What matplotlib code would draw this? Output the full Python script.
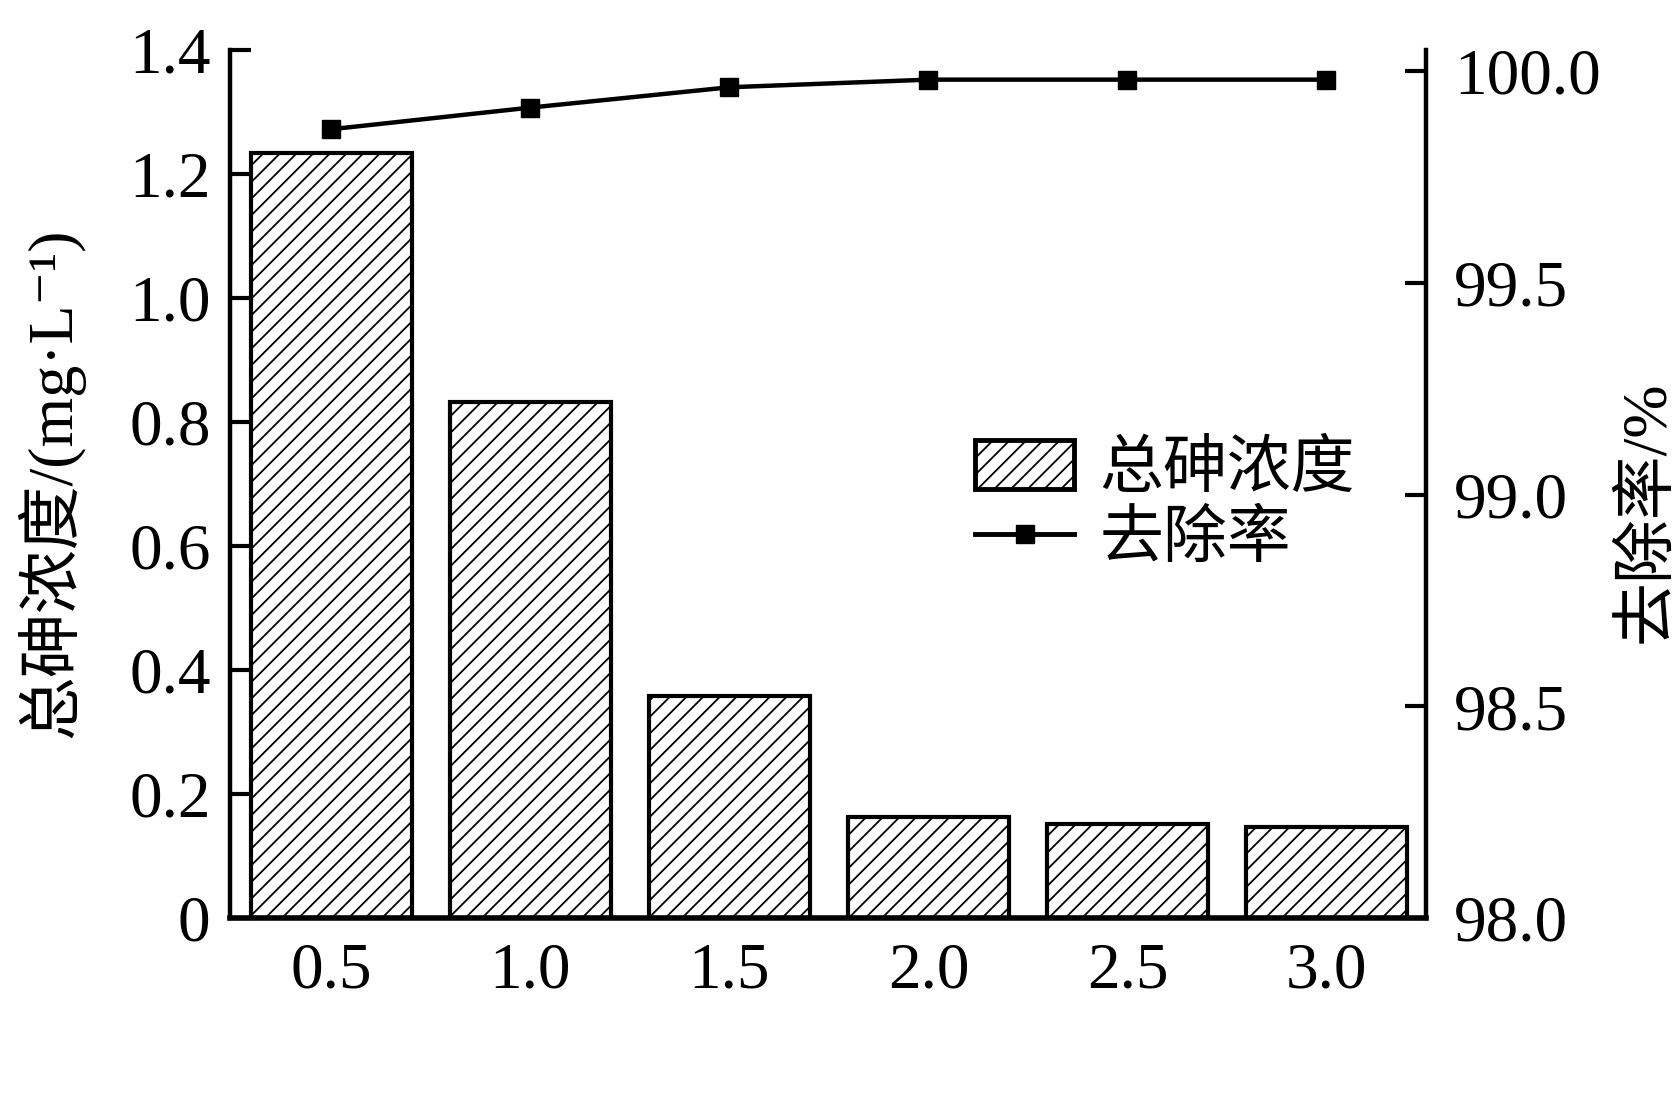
import matplotlib
matplotlib.use("Agg")
import matplotlib.pyplot as plt
from matplotlib.ticker import FixedLocator

plt.rcParams['font.family'] = ['Liberation Serif', 'Noto Sans CJK SC', 'DejaVu Sans']
plt.rcParams['hatch.linewidth'] = 1.3
plt.rcParams['axes.unicode_minus'] = False

# Data
categories = ["0.5", "1.0", "1.5", "2.0", "2.5", "3.0"]
arsenic_conc = [1.234, 0.832, 0.358, 0.163, 0.151, 0.147]      # 总砷浓度 mg/L
removal_rate = [99.863, 99.914, 99.962, 99.980, 99.980, 99.980]  # 去除率 %
left_ticks = [0, 0.2, 0.4, 0.6, 0.8, 1.0, 1.2, 1.4]
left_ticklabels = ["0", "0.2", "0.4", "0.6", "0.8", "1.0", "1.2", "1.4"]
right_ticks = [98.0, 98.5, 99.0, 99.5, 100.0]
right_ticklabels = ["98.0", "98.5", "99.0", "99.5", "100.0"]

W, H = 1681, 1094
fig = plt.figure(figsize=(W / 100, H / 100), dpi=100)
L, R, B, T = 230, 1426, 918, 50
ax = fig.add_axes([L / W, 1 - B / H, (R - L) / W, (B - T) / H])
ax2 = ax.twinx()

x = list(range(len(categories)))
bars = ax.bar(x, arsenic_conc, width=0.81, facecolor='white', edgecolor='black',
              linewidth=3.0, hatch='//', label='总砷浓度', zorder=2)
line, = ax2.plot(x, removal_rate, color='black', linewidth=3.2, marker='s',
                 markersize=13, markerfacecolor='black', label='去除率', zorder=3)

ax.set_xlim(-0.51, 5.5)
ax.set_ylim(0, 1.4)
ax2.set_ylim(98.0, 100.05)

ax.set_xticks(x)
ax.set_xticklabels(categories)
ax.yaxis.set_major_locator(FixedLocator(left_ticks))
ax.set_yticklabels(left_ticklabels)
ax2.yaxis.set_major_locator(FixedLocator(right_ticks))
ax2.set_yticklabels(right_ticklabels)

fs = 47
ax.tick_params(axis='x', direction='in', length=14, width=3.0, labelsize=fs, pad=17)
ax.tick_params(axis='y', direction='in', length=15, width=3.0, labelsize=fs, pad=14)
ax2.tick_params(axis='y', direction='in', length=15, width=3.0, labelsize=fs, pad=20)

for a in (ax, ax2):
    a.spines['top'].set_visible(False)
    for s in ('left', 'right'):
        a.spines[s].set_linewidth(3.2)
    a.spines['bottom'].set_linewidth(4.0)
ax.spines['right'].set_visible(False)
ax2.spines['left'].set_visible(False)
ax2.spines['bottom'].set_visible(False)

fig.text(0.0297, 0.5585, '总砷浓度/(mg·L⁻¹)', rotation=90, ha='center', va='center',
         fontsize=46)
fig.text(0.980, 0.532, '去除率/%', rotation=90, ha='center', va='center', fontsize=46)

leg = ax2.legend([bars, line], ['总砷浓度', '去除率'], loc='upper left',
                 bbox_to_anchor=(975 / W, 1 - 440 / H), bbox_transform=fig.transFigure,
                 frameon=False, fontsize=46, borderpad=0, borderaxespad=0,
                 handlelength=1.55, handleheight=0.8, handletextpad=0.4,
                 labelspacing=0.15)
for h in leg.legend_handles:
    if hasattr(h, 'set_linewidth'):
        h.set_linewidth(3.5)

fig.savefig('out.png', dpi=100, facecolor='white')
